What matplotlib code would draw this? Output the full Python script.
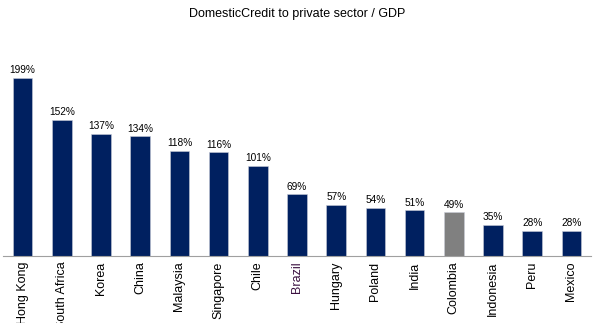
import matplotlib.pyplot as plt

plt.rcParams['font.family'] = ['Liberation Sans', 'DejaVu Sans']

# ── Data ─────────────────────────────────────────────────────────────────────
countries = ['Hong Kong', 'South Africa', 'Korea', 'China', 'Malaysia',
             'Singapore', 'Chile', 'Brazil', 'Hungary', 'Poland', 'India',
             'Colombia', 'Indonesia', 'Peru', 'Mexico']
credit_pct = [199, 152, 137, 134, 118, 116, 101, 69, 57, 54, 51, 49, 35, 28, 28]
highlight = 'Colombia'

NAVY = '#002060'
GREY = '#808080'

# ── Figure ───────────────────────────────────────────────────────────────────
fig = plt.figure(figsize=(5.95, 3.23), dpi=100)
ax = fig.add_axes([3 / 595, 67 / 323, 588 / 595, 216 / 323])

x = range(len(countries))
colors = [GREY if c == highlight else NAVY for c in countries]
bars = ax.bar(x, credit_pct, width=0.5, color=colors,
              edgecolor='#c8ccd8', linewidth=0.4)

for b, v in zip(bars, credit_pct):
    ax.text(b.get_x() + b.get_width() / 2, v + 3, f'{v}%',
            ha='center', va='bottom', fontsize=7.3, color='black')

ax.set_xlim(-0.5, len(countries) - 0.5)
ax.set_ylim(0, 241.6)

ax.set_xticks(list(x))
ax.set_xticklabels(countries, rotation=90, fontsize=9, va='top', ha='center')
ax.get_xticklabels()[countries.index('Brazil')].set_color('#3a1040')
ax.tick_params(axis='x', length=0, pad=4)
ax.set_yticks([])

for side in ('top', 'right', 'left'):
    ax.spines[side].set_visible(False)
ax.spines['bottom'].set_color('#a0a0a0')
ax.spines['bottom'].set_linewidth(0.8)

fig.text(0.5, 1 - 14 / 323, 'DomesticCredit to private sector / GDP',
         ha='center', va='center', fontsize=9, color='black')

fig.savefig('out.png', dpi=100)
